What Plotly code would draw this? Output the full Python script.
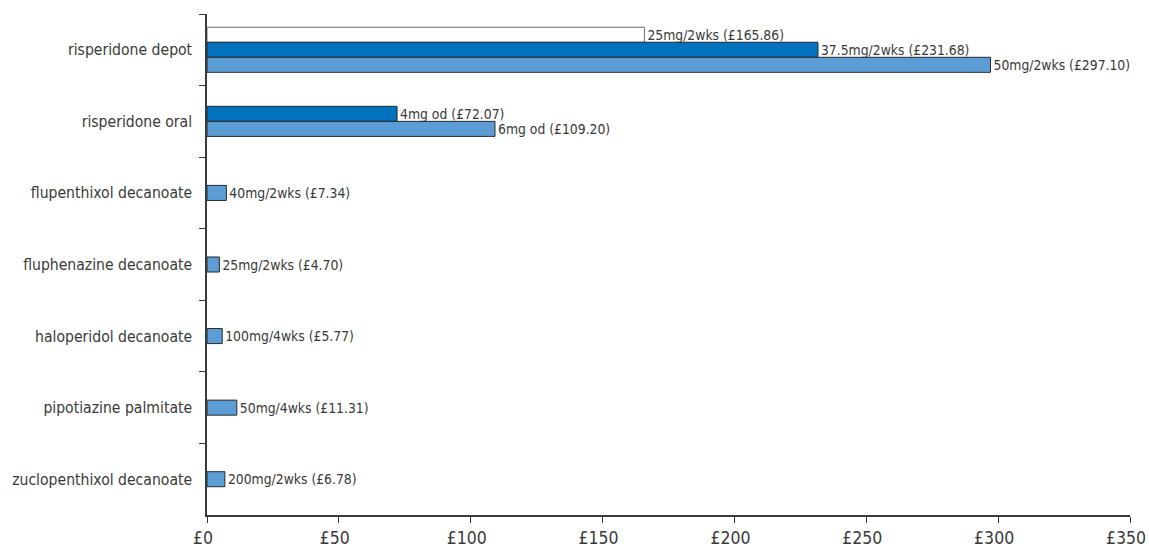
import plotly.graph_objects as go

# ---- data ----
categories = [
    "risperidone depot",
    "risperidone oral",
    "flupenthixol decanoate",
    "fluphenazine decanoate",
    "haloperidol decanoate",
    "pipotiazine palmitate",
    "zuclopenthixol decanoate",
]

# series 1 (white): lowest risperidone depot dose
s1_cats = ["risperidone depot"]
s1_dose = ["25mg/2wks"]
s1_cost = [165.86]

# series 2 (dark blue)
s2_cats = ["risperidone depot", "risperidone oral"]
s2_dose = ["37.5mg/2wks", "4mg od"]
s2_cost = [231.68, 72.07]

# series 3 (light blue)
s3_cats = categories
s3_dose = ["50mg/2wks", "6mg od", "40mg/2wks", "25mg/2wks", "100mg/4wks", "50mg/4wks", "200mg/2wks"]
s3_cost = [297.10, 109.20, 7.34, 4.70, 5.77, 11.31, 6.78]

x_ticks = [0, 50, 100, 150, 200, 250, 300, 350]
x_tick_text = [f"£{v}" for v in x_ticks]

# ---- styling ----
FONT = "DejaVu Sans Condensed, DejaVu Sans, sans-serif"
TXT = "#3a3a3a"
LINE = "#3a3a3a"
BAR_W = 0.21

series = [
    (s1_cats, s1_dose, s1_cost, "#ffffff", "#6e6e6e"),
    (s2_cats, s2_dose, s2_cost, "#0072bf", "#2a2a2a"),
    (s3_cats, s3_dose, s3_cost, "#5d9dd5", "#2a2a2a"),
]

# number of bars present in each category, and rank of each bar within it
counts = {c: sum(c in s[0] for s in series) for c in categories}
seen = {c: 0 for c in categories}

fig = go.Figure()
for cats, dose, cost, fill, edge in series:
    offs = []
    for c in cats:
        offs.append(-counts[c] * BAR_W / 2 + seen[c] * BAR_W)
        seen[c] += 1
    fig.add_trace(go.Bar(
        y=cats, x=cost, orientation="h",
        customdata=dose,
        texttemplate="%{customdata} (£%{x:.2f})",
        textposition="outside",
        constraintext="none",
        cliponaxis=False,
        outsidetextfont=dict(family=FONT, size=13.8, color=TXT),
        width=BAR_W, offset=offs,
        marker=dict(color=fill, line=dict(color=edge, width=1)),
        hoverinfo="skip",
        showlegend=False,
    ))

fig.update_layout(
    width=1149, height=549,
    margin=dict(l=207, r=19, t=14, b=34, autoexpand=False),
    barmode="overlay",
    paper_bgcolor="white", plot_bgcolor="white",
    font=dict(family=FONT, color=TXT),
    showlegend=False,
)
fig.update_xaxes(
    range=[0, 350], tickmode="array", tickvals=x_ticks, ticktext=x_tick_text,
    showgrid=False, zeroline=False,
    showline=True, linecolor=LINE, linewidth=1.5,
    ticks="outside", ticklen=6, tickcolor=LINE, tickwidth=1.2,
    ticklabelshift=-4, ticklabeloverflow="allow",
    tickfont=dict(family=FONT, size=17.5, color=TXT),
)
fig.update_yaxes(
    type="category", categoryorder="array", categoryarray=categories,
    range=[len(categories) - 0.5, -0.5],
    showgrid=False, zeroline=False,
    showline=True, linecolor=LINE, linewidth=1.5,
    ticks="outside", ticklen=6, tickcolor=LINE, tickwidth=1.2,
    tickson="boundaries", ticklabelstandoff=10,
    tickfont=dict(family=FONT, size=15.6, color=TXT),
)

fig.write_html("out.html")
